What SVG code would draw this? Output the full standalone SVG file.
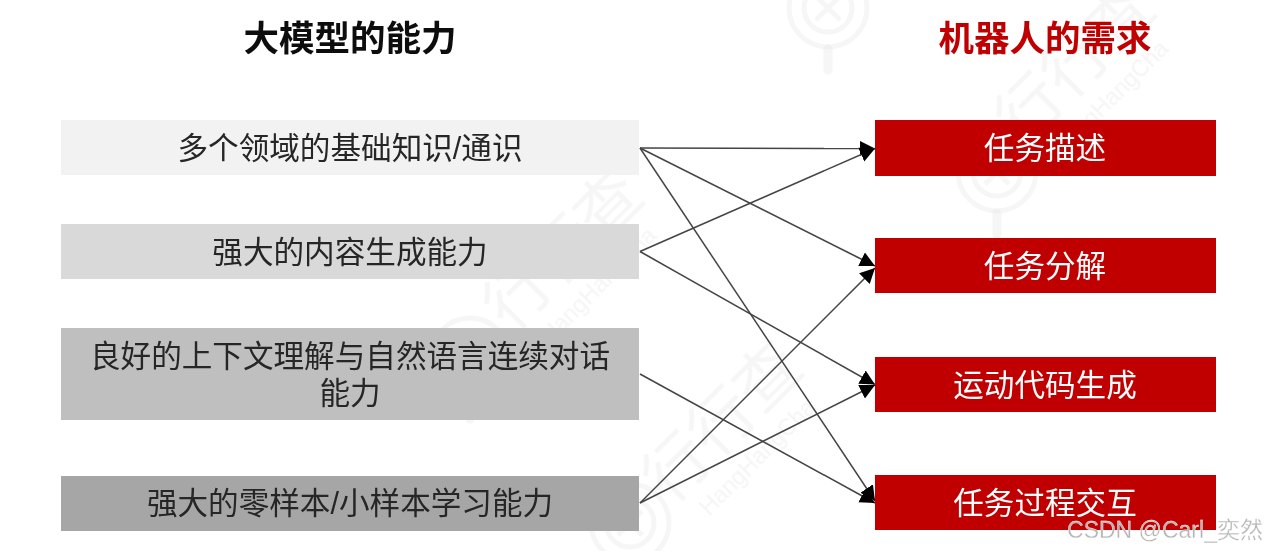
<svg xmlns="http://www.w3.org/2000/svg" width="1266" height="551" viewBox="0 0 1266 551">
<style>
text{font-family:"Liberation Sans","Noto Sans CJK SC",sans-serif;text-anchor:middle}
.t{font-size:30.6px;fill:#262626}
.w{font-size:30.6px;fill:#fff}
.h{font-size:35.500px;font-weight:700}
.c{fill:none;stroke:#444;stroke-width:1.5}
.r{fill:#c00000}
.big{font-size:64px;fill:#e8e8e8;fill-opacity:.4}
.sm{font-size:23px;fill:#e8e8e8;fill-opacity:.45}
.st{fill:none;stroke:#e8e8e8;stroke-opacity:.4;stroke-width:5}
.hd{fill:none;stroke:#e8e8e8;stroke-opacity:.4;stroke-width:9;stroke-linecap:round}
</style>
<defs>
<filter id="soft" x="0" y="0" width="100%" height="100%"><feGaussianBlur stdDeviation="0.55"/></filter>
<marker id="a" markerUnits="userSpaceOnUse" markerWidth="16" markerHeight="18" refX="15" refY="9" orient="auto"><path d="M0 1.500L15 9L0 16.500Z" fill="#000"/></marker>
<g id="stamp"><circle class="st" r="39"/><circle class="st" r="24"/><path class="st" d="M-12 -12L12 12M12 -12L-12 12"/><path class="hd" d="M0 41V62"/></g>
<g id="mark"><text class="big" x="0" y="22">行行查</text><text class="sm" x="0" y="58">HangHangCha</text></g>
</defs>
<rect width="1266" height="551" fill="#fff"/>
<g filter="url(#soft)">
<g id="background-watermark">
<use href="#stamp" x="828" y="8"/>
<use href="#stamp" x="997" y="172"/>
<use href="#stamp" x="630" y="523"/>
<use href="#stamp" x="470" y="357"/>
<use href="#mark" transform="translate(563 250) rotate(-45)"/>
<use href="#mark" transform="translate(722 422) rotate(-45)"/>
<use href="#mark" transform="translate(1075 63) rotate(-45)"/>
</g>
<g id="title-left"><text class="h" x="350" y="51" fill="#0d0d0d">大模型的能力</text></g>
<g id="title-right"><text class="h" x="1045" y="51" fill="#c00000">机器人的需求</text></g>
<g id="l1"><rect x="61" y="120" width="578" height="55" fill="#f2f2f2"/><text class="t" x="350" y="159">多个领域的基础知识/通识</text></g>
<g id="l2"><rect x="61" y="224" width="578" height="55" fill="#d9d9d9"/><text class="t" x="350" y="263">强大的内容生成能力</text></g>
<g id="l3"><rect x="61" y="328" width="578" height="92" fill="#bfbfbf"/><text class="t" x="350" y="367">良好的上下文理解与自然语言连续对话</text><text class="t" x="350" y="404">能力</text></g>
<g id="l4"><rect x="61" y="476" width="578" height="55" fill="#a6a6a6"/><text class="t" x="350" y="514">强大的零样本/小样本学习能力</text></g>
<g id="r1"><rect class="r" x="875" y="120" width="341" height="56"/><text class="w" x="1045" y="159">任务描述</text></g>
<g id="r2"><rect class="r" x="875" y="238" width="341" height="55"/><text class="w" x="1045" y="277">任务分解</text></g>
<g id="r3"><rect class="r" x="875" y="357" width="341" height="55"/><text class="w" x="1045" y="396">运动代码生成</text></g>
<g id="r4"><rect class="r" x="875" y="475" width="341" height="55"/><text class="w" x="1045" y="514">任务过程交互</text></g>
<g id="connectors">
<line class="c" x1="640" y1="148" x2="875" y2="148.500" marker-end="url(#a)"/>
<line class="c" x1="640" y1="148" x2="875" y2="501" marker-end="url(#a)"/>
<line class="c" x1="640" y1="148" x2="875" y2="266" marker-end="url(#a)"/>
<line class="c" x1="640" y1="251.500" x2="875" y2="148.500" marker-end="url(#a)"/>
<line class="c" x1="640" y1="251.500" x2="875" y2="384.500" marker-end="url(#a)"/>
<line class="c" x1="640" y1="374" x2="875" y2="503" marker-end="url(#a)"/>
<line class="c" x1="640" y1="503" x2="875" y2="268" marker-end="url(#a)"/>
<line class="c" x1="640" y1="503" x2="875" y2="385" marker-end="url(#a)"/>
</g>
<g id="watermark"><text x="1165" y="538" font-size="23" fill="#b5b5b5" stroke="#fff" stroke-width="0.3">CSDN @Carl_奕然</text></g>
</g>
</svg>
